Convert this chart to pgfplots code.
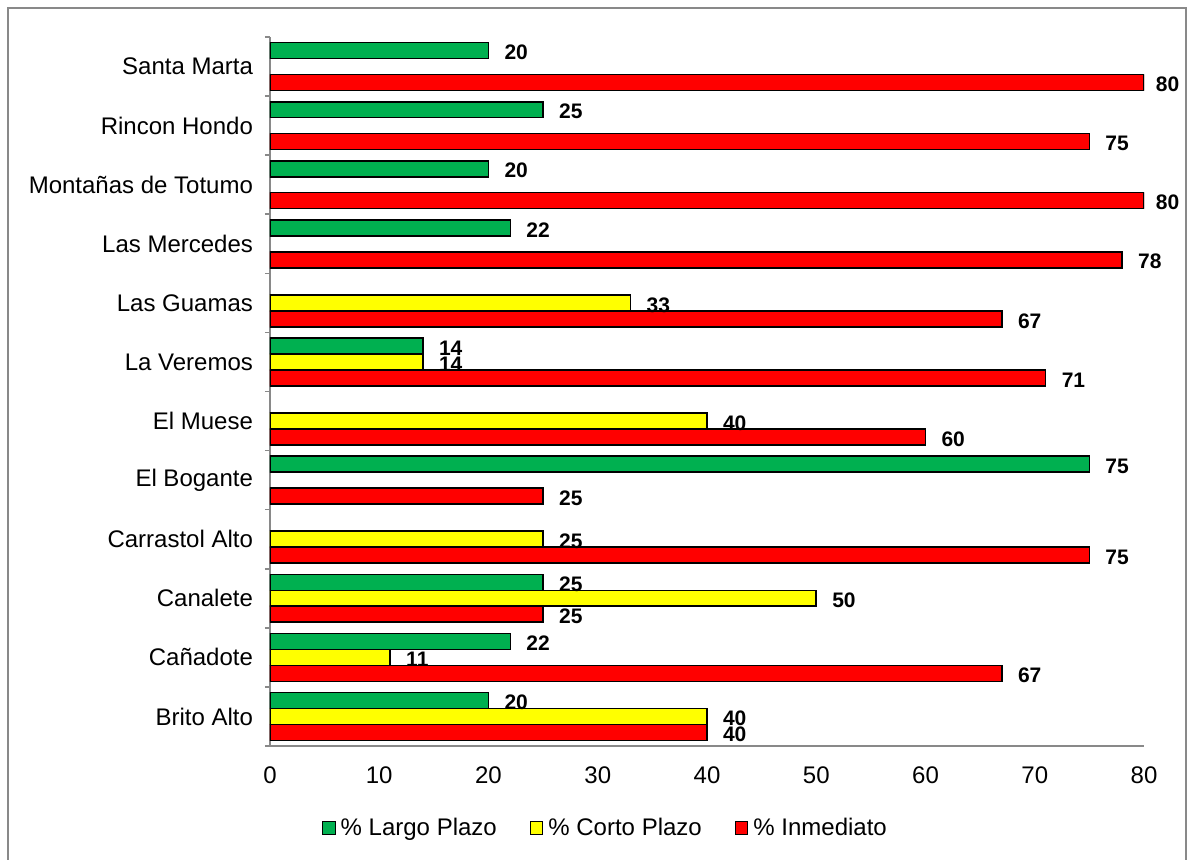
\documentclass[border=0pt]{standalone}
\usepackage{fontspec}
\setmainfont{Liberation Sans}
\usepackage{pgfplots}
\usepackage{pgfplotstable}
\pgfplotsset{compat=1.18}

\definecolor{largo}{HTML}{00B050}
\definecolor{corto}{HTML}{FFFF00}
\definecolor{inmed}{HTML}{FF0000}
\definecolor{axisgray}{HTML}{898989}

% y = category index (0 = Brito Alto ... 11 = Santa Marta), x = percentage
\pgfplotstableread{
y x
0 20
1 22
2 25
4 75
6 14
8 22
9 20
10 25
11 20
}\largoplazo

\pgfplotstableread{
y x
0 40
1 11
2 50
3 25
5 40
6 14
7 33
}\cortoplazo

\pgfplotstableread{
y x
0 40
1 67
2 25
3 75
4 25
5 60
6 71
7 67
8 78
9 80
10 75
11 80
}\inmediato

\begin{document}
\begin{tikzpicture}
\useasboundingbox (0,0) rectangle (594pt,429.5pt);
% chart area border (open at the bottom)
\draw[axisgray, line width=0.8pt] (4pt,-3pt) -- (4pt,425.5pt) -- (593pt,425.5pt) -- (593pt,-3pt);
\begin{axis}[
  at={(135pt,56.5pt)}, anchor=south west,
  scale only axis, width=437pt, height=354.5pt,
  xbar, bar width=0.27,
  xmin=0, xmax=80, ymin=-0.5, ymax=11.5,
  axis x line*=bottom, axis y line*=left,
  axis line style={-, draw=axisgray, line width=0.8pt},
  /pgf/number format/assume math mode=true,
  xtick={0,10,...,80},
  xtick style={draw=none},
  ytick={0,...,11},
  ytick style={draw=none},
  major tick length=0pt,
  yticklabels={Brito Alto, Cañadote, Canalete, Carrastol Alto, El Bogante, El Muese, La Veremos, Las Guamas, Las Mercedes, Montañas de Totumo, Rincon Hondo, Santa Marta},
  extra y ticks={-0.5,0.5,...,11.5},
  extra y tick labels={},
  extra y tick style={major tick length=2.5pt, tick align=outside,
    ytick style={draw=axisgray, line width=0.8pt}},
  tick label style={font=\fontsize{12}{14}\selectfont},
  xticklabel style={yshift=-7pt},
  yticklabel style={xshift=-5pt},
  nodes near coords,
  visualization depends on={rawx \as \rawx},
  every node near coord/.append style={font=\bfseries\fontsize{10.5}{12}\selectfont,
    anchor=west, xshift={(\rawx>79 ? 2.2 : 4.3)*1pt}, yshift=-1pt, black},
  legend columns=3,
  legend style={at={(0.385,-0.1157)}, anchor=center, draw=none, fill=none,
    font=\fontsize{12}{14}\selectfont,
    /tikz/every odd column/.append style={column sep=0.5pt},
    /tikz/every even column/.append style={column sep=14.5pt}},
  legend image code/.code={\draw[#1, line width=0.6pt] (0pt,-3.1pt) rectangle (6.2pt,3.1pt);},
]
\addplot[fill=largo, draw=black, line width=0.8pt, bar shift=0.27] table[x=x,y=y]{\largoplazo};
\addplot[fill=corto, draw=black, line width=0.8pt, bar shift=0] table[x=x,y=y]{\cortoplazo};
\addplot[fill=inmed, draw=black, line width=0.8pt, bar shift=-0.27] table[x=x,y=y]{\inmediato};
\legend{\% Largo Plazo, \% Corto Plazo, \% Inmediato}
\end{axis}
\end{tikzpicture}
\end{document}
